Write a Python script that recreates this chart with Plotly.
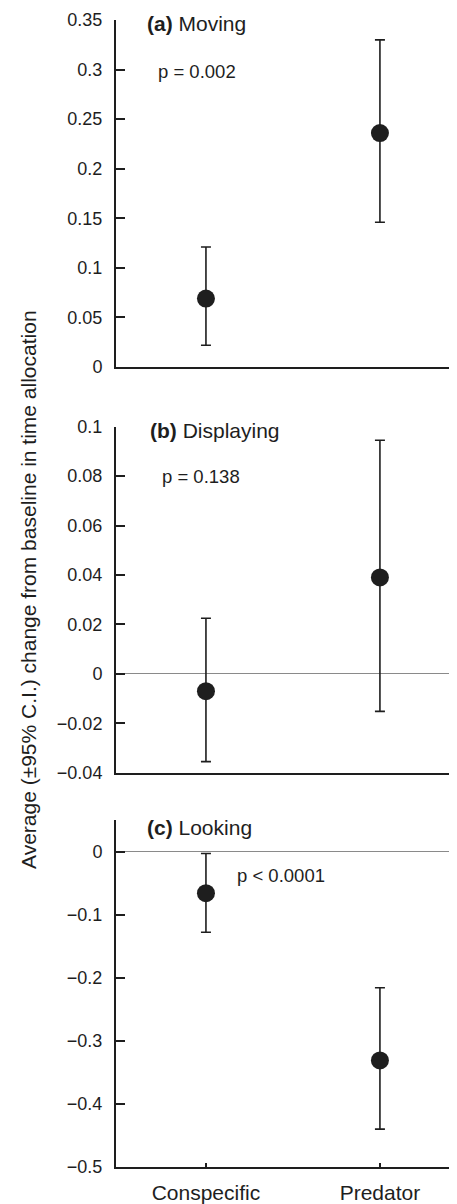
import plotly.graph_objects as go

# ---- data ----
categories = ["Conspecific", "Predator"]

moving_mean = [0.069, 0.236]
moving_upper = [0.121, 0.330]
moving_lower = [0.022, 0.146]

displaying_mean = [-0.007, 0.039]
displaying_upper = [0.0225, 0.0945]
displaying_lower = [-0.0355, -0.0152]

looking_mean = [-0.066, -0.331]
looking_upper = [-0.003, -0.216]
looking_lower = [-0.128, -0.440]

panel_titles = ["<b>(a)</b> Moving", "<b>(b)</b> Displaying", "<b>(c)</b> Looking"]
p_labels = ["p = 0.002", "p = 0.138", "p < 0.0001"]

yticks_a = [0, 0.05, 0.1, 0.15, 0.2, 0.25, 0.3, 0.35]
yticks_b = [-0.04, -0.02, 0, 0.02, 0.04, 0.06, 0.08, 0.1]
yticks_c = [-0.5, -0.4, -0.3, -0.2, -0.1, 0]

y_title = "Average (±95% C.I.) change from baseline in time allocation"

# ---- layout constants (page has an 8px body margin) ----
OFF = 8
W, H = 457 - OFF, 1204 - OFF
L = 116 - OFF
PW = W - L
FONT = "Liberation Sans, Arial, Helvetica, sans-serif"
INK = "#1e1e1e"

def ypaper(py):
    return 1 - (py - OFF) / H

def xpaper(px):
    return (px - OFF - L) / PW

xpos = list(range(len(categories)))

fig = go.Figure()
panels = [
    (moving_mean, moving_upper, moving_lower, "x", "y"),
    (displaying_mean, displaying_upper, displaying_lower, "x2", "y2"),
    (looking_mean, looking_upper, looking_lower, "x3", "y3"),
]
for mean, up, lo, xa, ya in panels:
    fig.add_trace(go.Scatter(
        x=xpos, y=mean, mode="markers", xaxis=xa, yaxis=ya,
        marker=dict(size=18, color=INK),
        error_y=dict(type="data", symmetric=False,
                     array=[u - m for u, m in zip(up, mean)],
                     arrayminus=[m - l for m, l in zip(mean, lo)],
                     color=INK, thickness=1.6, width=5),
        showlegend=False, hoverinfo="skip",
    ))

xrange = [-0.517, 1.443]
domains = [
    [ypaper(367), ypaper(20)],
    [ypaper(772.7), ypaper(426.7)],
    [ypaper(1167), ypaper(820)],
]

common_x = dict(range=xrange, showline=True, linecolor=INK, linewidth=2,
                showgrid=False, zeroline=False, domain=[0, 1],
                tickvals=xpos, ticktext=categories)
fig.update_layout(
    width=W, height=H,
    margin=dict(l=L, r=0, t=0, b=0, autoexpand=False),
    paper_bgcolor="white", plot_bgcolor="white",
    font=dict(family=FONT, color=INK),
    xaxis=dict(common_x, anchor="y", showticklabels=False, ticks=""),
    xaxis2=dict(common_x, anchor="y2", showticklabels=False, ticks=""),
    xaxis3=dict(common_x, anchor="y3", ticks="inside", ticklen=4, tickwidth=1.5,
                tickcolor=INK, tickfont=dict(size=21, family=FONT, color=INK),
                ticklabelstandoff=6),
)

common_y = dict(showline=True, linecolor=INK, linewidth=2, showgrid=False,
                ticks="inside", ticklen=9, tickwidth=1.5, tickcolor=INK,
                tickfont=dict(size=18, family=FONT, color=INK),
                ticklabelstandoff=8)
fig.update_layout(
    yaxis=dict(common_y, domain=domains[0], range=[0, 0.35], anchor="x",
               tickvals=yticks_a, zeroline=False),
    yaxis2=dict(common_y, domain=domains[1], range=[-0.04, 0.1], anchor="x2",
                tickvals=yticks_b, zeroline=True, zerolinecolor="#8a8a8a", zerolinewidth=1.2),
    yaxis3=dict(common_y, domain=domains[2], range=[-0.5, 0.05], anchor="x3",
                tickvals=yticks_c, zeroline=True, zerolinecolor="#8a8a8a", zerolinewidth=1.2),
)

# panel titles and p values (positions in page pixels)
title_pos = [(145, 24), (147.5, 431), (144.5, 827.5)]
p_pos = [(155.5, 71), (160, 476.5), (234.5, 875)]
for t, (px, py) in zip(panel_titles, title_pos):
    fig.add_annotation(text=t, xref="paper", yref="paper", x=xpaper(px), y=ypaper(py),
                       xanchor="left", yanchor="middle", showarrow=False,
                       font=dict(size=21, family=FONT, color=INK))
for t, (px, py) in zip(p_labels, p_pos):
    fig.add_annotation(text=t, xref="paper", yref="paper", x=xpaper(px), y=ypaper(py),
                       xanchor="left", yanchor="middle", showarrow=False,
                       font=dict(size=18.5, family=FONT, color=INK))

fig.add_annotation(text=y_title, xref="paper", yref="paper", x=xpaper(28), y=ypaper(590),
                   xanchor="center", yanchor="middle", textangle=-90, showarrow=False,
                   font=dict(size=21, family=FONT, color=INK))

fig.write_html("out.html")
